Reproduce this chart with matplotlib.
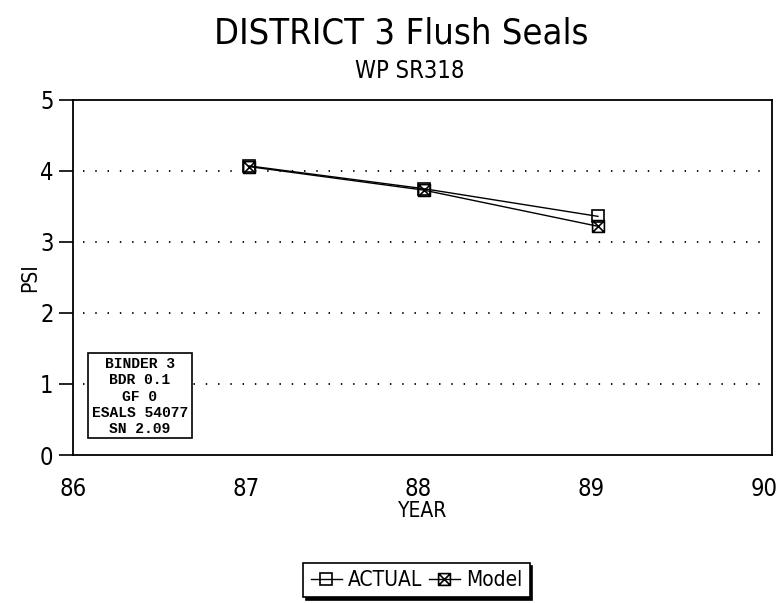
import matplotlib
matplotlib.use("Agg")
import matplotlib.pyplot as plt
from matplotlib import font_manager as fm
from matplotlib.path import Path
from matplotlib.patches import Rectangle

years = [87.02, 88.03, 89.04]
actual = [4.07, 3.75, 3.36]
model = [4.06, 3.73, 3.22]
x_ticks = [86, 87, 88, 89, 90]
y_ticks = [0, 1, 2, 3, 4, 5]
grid_levels = [1, 2, 3, 4]
info_lines = ["BINDER 3", "BDR 0.1", "GF 0", "ESALS 54077", "SN 2.09"]

names = {f.name for f in fm.fontManager.ttflist}
if 'Liberation Sans Narrow' in names:
    SANS = dict(family=['Liberation Sans Narrow', 'DejaVu Sans'])
else:
    SANS = dict(family=['DejaVu Sans'], stretch='condensed')

plt.rcParams['font.family'] = SANS['family']
if 'stretch' in SANS:
    plt.rcParams['font.stretch'] = 'condensed'

# square with an X inside
boxx = Path([(-1, -1), (1, -1), (1, 1), (-1, 1), (-1, -1), (-1, -1), (1, 1), (-1, 1), (1, -1)],
            [Path.MOVETO, Path.LINETO, Path.LINETO, Path.LINETO, Path.CLOSEPOLY,
             Path.MOVETO, Path.LINETO, Path.MOVETO, Path.LINETO])

fig = plt.figure(figsize=(7.77, 6.03), dpi=100)
ax = fig.add_axes([0.094, 0.2454, 0.9, 0.589])
ax.set_xlim(86, 90.05)
ax.set_ylim(0, 5)

for lv in grid_levels:
    ax.plot([86.06, 90.0], [lv, lv], linestyle=(0, (0.8, 6)), color='black', lw=1.3)

ax.plot(years, actual, color='black', lw=1.0, marker='s', markersize=8.5,
        markerfacecolor='none', markeredgecolor='black', markeredgewidth=1.2, label='ACTUAL')
ax.plot(years, model, color='black', lw=1.0, marker=boxx, markersize=8.5,
        markerfacecolor='none', markeredgecolor='black', markeredgewidth=1.2, label='Model')

ax.set_xticks(x_ticks)
ax.set_yticks(y_ticks)
ax.tick_params(axis='x', length=0, labelsize=17, pad=16)
ax.tick_params(axis='y', length=10, labelsize=17, width=1.2, pad=4)
for s in ax.spines.values():
    s.set_linewidth(1.3)

ax.set_xlabel('YEAR', fontsize=15, labelpad=0)
ax.set_ylabel('PSI', fontsize=15, labelpad=0)

fig.text(0.517, 0.945, 'DISTRICT 3 Flush Seals', ha='center', va='center', fontsize=26)
fig.text(0.527, 0.882, 'WP SR318', ha='center', va='center', fontsize=17)

# parameter box (axes data coordinates)
ax.add_patch(Rectangle((86.087, 0.24), 0.6, 1.19, facecolor='white',
                       edgecolor='black', lw=1.2, zorder=3))
line_y = [1.28, 1.05, 0.82, 0.59, 0.36]
for txt, yy in zip(info_lines, line_y):
    ax.text(86.387, yy, txt, ha='center', va='center', family='Liberation Mono',
            fontweight='bold', fontsize=10.5, zorder=4)

leg = fig.legend(loc='center', bbox_to_anchor=(0.536, 0.038), ncol=2, frameon=True,
                 fontsize=15, handlelength=1.5, handletextpad=0.3, columnspacing=0.3,
                 fancybox=False, shadow={'color': 'black', 'alpha': 1.0}, borderpad=0.35)
leg.get_frame().set_edgecolor('black')
leg.get_frame().set_linewidth(1.2)

fig.savefig('out.png', dpi=100)
